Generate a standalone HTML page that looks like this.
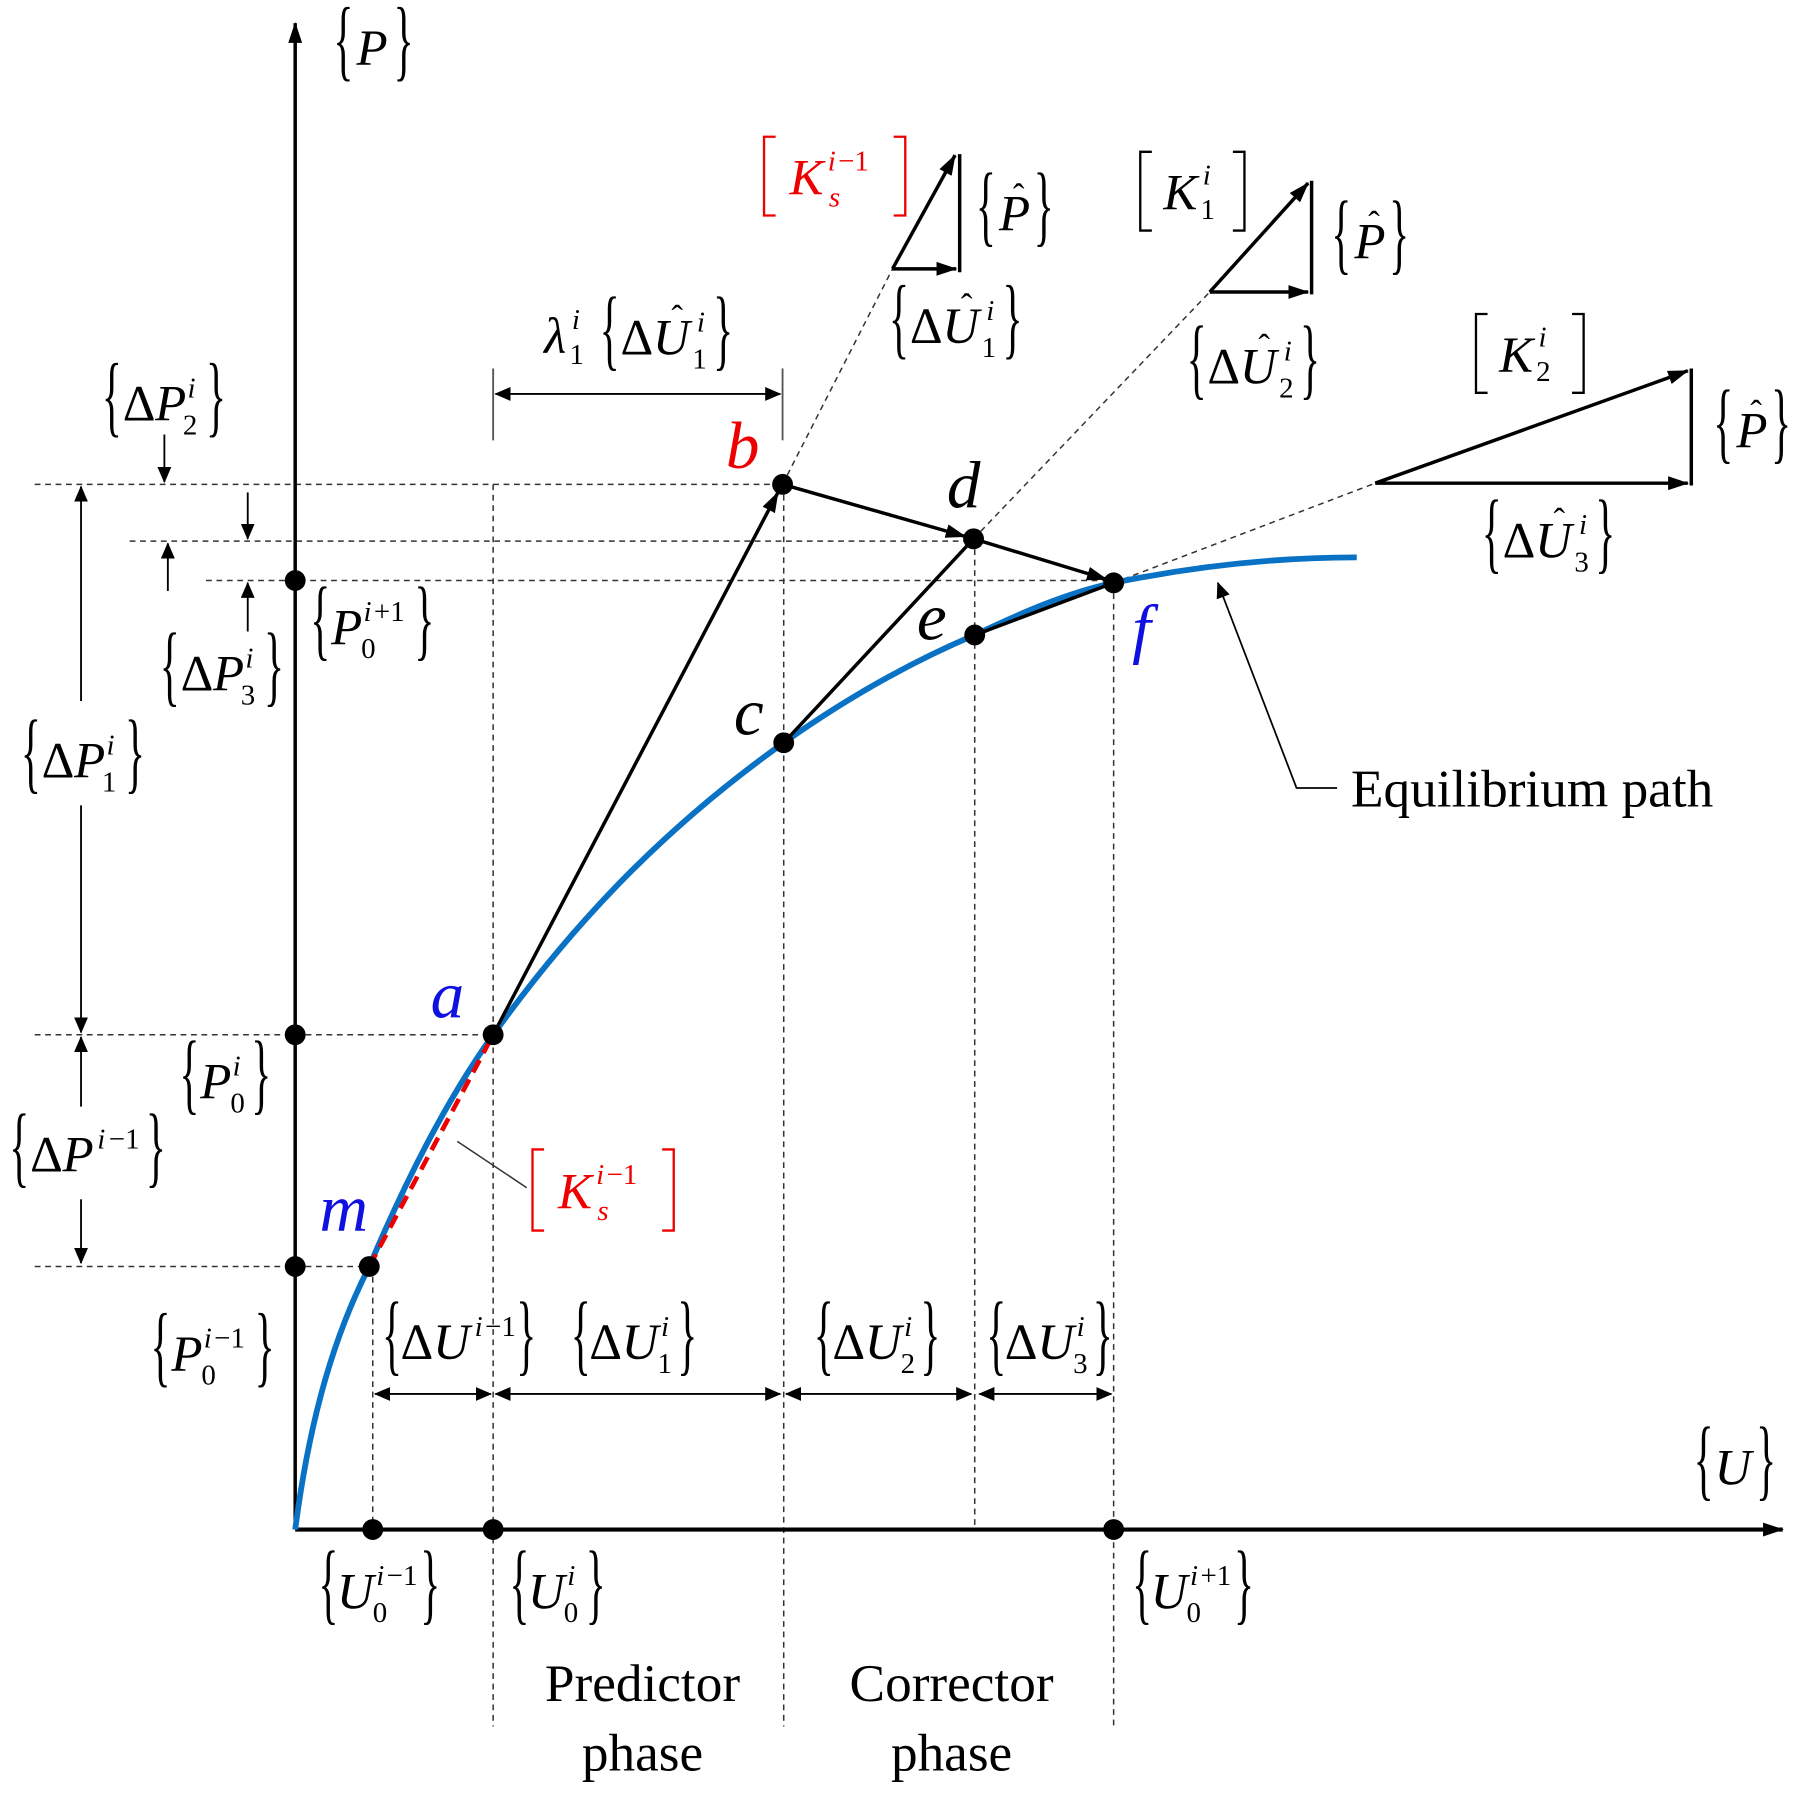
<!DOCTYPE html>
<html><head><meta charset="utf-8"><style>
html,body{margin:0;padding:0;background:#fff}
svg{display:block}
text{font-family:"Liberation Serif",serif;fill:#000}
.m{font-size:44px;font-style:italic}
.u{font-size:44px}
.s{font-size:25px}
.si{font-size:25px;font-style:italic}
.br{font-size:60px;font-weight:normal}
.pt{font-size:58px;font-style:italic}
.tx{font-size:46px}
.d{stroke:#333;stroke-width:1.3;stroke-dasharray:5,4;fill:none}
</style></head><body>
<svg width="1814" height="1803" viewBox="0 0 1567 1556" preserveAspectRatio="none" xmlns="http://www.w3.org/2000/svg">
<defs>
<marker id="ah" markerWidth="18" markerHeight="12" refX="17" refY="6" orient="auto" markerUnits="userSpaceOnUse"><path d="M0,0 L18,6 L0,12 z" fill="#000"/></marker>
<marker id="as" markerWidth="14" markerHeight="12" refX="13" refY="6" orient="auto" markerUnits="userSpaceOnUse"><path d="M0,0 L14,6 L0,12 z" fill="#000"/></marker>
<marker id="asr" markerWidth="14" markerHeight="12" refX="1" refY="6" orient="auto" markerUnits="userSpaceOnUse"><path d="M14,0 L0,6 L14,12 z" fill="#000"/></marker>
</defs>

<path class="d" d="M30,418H676 M112,467H841 M178,501H962 M30,893H426 M30,1093H319"/>
<path class="d" d="M426,418V1490 M677,418V1490 M842,465V1320 M962,503V1490 M322,1093V1320"/>
<path class="d" d="M676,418L771,232 M841,465L1045,252 M962,503L1188,417"/>

<line x1="255" y1="1320" x2="255" y2="20" stroke="#000" stroke-width="3" marker-end="url(#ah)"/>
<line x1="255" y1="1320" x2="1540" y2="1320" stroke="#000" stroke-width="3.5" marker-end="url(#ah)"/>

<path d="M255,1320 C268,1220 290,1150 319,1093 C350,1020 385,950 426,893 C500,790 580,710 677,641 C735,600 790,570 842,548 C880,530 920,512 962,503 C1040,487 1110,481 1172,481" fill="none" stroke="#0a72c4" stroke-width="5"/>
<line x1="319" y1="1093" x2="426" y2="893" stroke="#e00" stroke-width="4" stroke-dasharray="12,7"/>
<line x1="395" y1="985" x2="455" y2="1025" stroke="#333" stroke-width="1.3"/>

<line x1="426" y1="893" x2="672" y2="425" stroke="#000" stroke-width="3" marker-end="url(#ah)"/>
<line x1="676" y1="418" x2="834" y2="463" stroke="#000" stroke-width="3" marker-end="url(#ah)"/>
<line x1="841" y1="465" x2="956" y2="500" stroke="#000" stroke-width="3" marker-end="url(#ah)"/>
<line x1="677" y1="641" x2="841" y2="465" stroke="#000" stroke-width="3"/>
<line x1="842" y1="548" x2="962" y2="503" stroke="#000" stroke-width="3"/>

<g stroke="#000" stroke-width="3" fill="none">
<line x1="771" y1="232" x2="825" y2="134" marker-end="url(#ah)"/>
<line x1="771" y1="232" x2="826" y2="232" marker-end="url(#ah)"/>
<line x1="829" y1="133" x2="829" y2="235"/>
<line x1="1045" y1="252" x2="1130" y2="158" marker-end="url(#ah)"/>
<line x1="1045" y1="252" x2="1130" y2="252" marker-end="url(#ah)"/>
<line x1="1133" y1="156" x2="1133" y2="254"/>
<line x1="1188" y1="417" x2="1458" y2="320" marker-end="url(#ah)"/>
<line x1="1188" y1="417" x2="1458" y2="417" marker-end="url(#ah)"/>
<line x1="1461" y1="318" x2="1461" y2="419"/>
</g>

<path d="M1155,680H1120L1052,503" fill="none" stroke="#000" stroke-width="1.5" marker-end="url(#as)"/>
<text class="tx" x="1167" y="696">Equilibrium path</text>

<g stroke="#000" stroke-width="1.6" fill="none">
<line x1="426" y1="318" x2="426" y2="380" stroke="#555"/>
<line x1="676" y1="318" x2="676" y2="380" stroke="#555"/>
<line x1="428" y1="340" x2="674" y2="340" marker-start="url(#asr)" marker-end="url(#as)"/>
<line x1="324" y1="1203" x2="424" y2="1203" marker-start="url(#asr)" marker-end="url(#as)"/>
<line x1="428" y1="1203" x2="674" y2="1203" marker-start="url(#asr)" marker-end="url(#as)"/>
<line x1="679" y1="1203" x2="839" y2="1203" marker-start="url(#asr)" marker-end="url(#as)"/>
<line x1="846" y1="1203" x2="960" y2="1203" marker-start="url(#asr)" marker-end="url(#as)"/>
<line x1="70" y1="605" x2="70" y2="420" marker-end="url(#as)"/>
<line x1="70" y1="695" x2="70" y2="891" marker-end="url(#as)"/>
<line x1="70" y1="955" x2="70" y2="895" marker-end="url(#as)"/>
<line x1="70" y1="1035" x2="70" y2="1090" marker-end="url(#as)"/>
<line x1="142" y1="375" x2="142" y2="416" marker-end="url(#as)"/>
<line x1="214" y1="425" x2="214" y2="465" marker-end="url(#as)"/>
<line x1="145" y1="510" x2="145" y2="469" marker-end="url(#as)"/>
<line x1="214" y1="545" x2="214" y2="503" marker-end="url(#as)"/>
</g>

<g fill="#000">
<circle cx="255" cy="501" r="9"/><circle cx="255" cy="893" r="9"/><circle cx="255" cy="1093" r="9"/>
<circle cx="322" cy="1320" r="9"/><circle cx="426" cy="1320" r="9"/><circle cx="962" cy="1320" r="9"/>
<circle cx="426" cy="893" r="9"/><circle cx="676" cy="418" r="9"/><circle cx="677" cy="641" r="9"/>
<circle cx="841" cy="465" r="9"/><circle cx="842" cy="548" r="9"/><circle cx="962" cy="503" r="9"/>
<circle cx="319" cy="1093" r="9"/>
</g>

<text class="pt" x="627" y="404" style="fill:#e00">b</text>
<text class="pt" x="818" y="438">d</text>
<text class="pt" x="634" y="634">c</text>
<text class="pt" x="792" y="552">e</text>
<text class="pt" x="978" y="562" style="fill:#1010e0">f</text>
<text class="pt" x="372" y="878" style="fill:#1010e0">a</text>
<text class="pt" x="276" y="1062" style="fill:#1010e0">m</text>

<g transform="translate(288,40)">
<text class="br" transform="translate(0,20) scale(0.6,1.3)">{</text>
<text class="m" x="20" y="16">P</text>
<text class="br" transform="translate(52,20) scale(0.6,1.3)">}</text>
</g>
<g transform="translate(1463,1265)">
<text class="br" transform="translate(0,20) scale(0.6,1.3)">{</text>
<text class="m" x="18" y="16">U</text>
<text class="br" transform="translate(54,20) scale(0.6,1.3)">}</text>
</g>

<g transform="translate(660,152)">
<path d="M10,-34H0V34H10 M112,-34H122V34H112" stroke="#e00" stroke-width="2" fill="none"/>
<text class="m" x="22" y="16" style="fill:#e00">K</text>
<text class="si" x="55" y="-5" style="fill:#e00">i</text><text class="s" x="64" y="-5" style="fill:#e00">−1</text>
<text class="si" x="56" y="26" style="fill:#e00">s</text>
</g>
<g transform="translate(460,1027)">
<path d="M10,-35H0V35H10 M112,-35H122V35H112" stroke="#e00" stroke-width="2" fill="none"/>
<text class="m" x="22" y="16" style="fill:#e00">K</text>
<text class="si" x="55" y="-5" style="fill:#e00">i</text><text class="s" x="64" y="-5" style="fill:#e00">−1</text>
<text class="si" x="56" y="26" style="fill:#e00">s</text>
</g>
<g transform="translate(985,165)">
<path d="M10,-34H0V34H10 M80,-34H90V34H80" stroke="#000" stroke-width="2" fill="none"/>
<text class="m" x="20" y="16">K</text>
<text class="si" x="54" y="-6">i</text><text class="s" x="52" y="24">1</text>
</g>
<g transform="translate(1275,305)">
<path d="M10,-34H0V34H10 M83,-34H93V34H83" stroke="#000" stroke-width="2" fill="none"/>
<text class="m" x="20" y="16">K</text>
<text class="si" x="54" y="-6">i</text><text class="s" x="52" y="24">2</text>
</g>

<g transform="translate(843,183)">
<text class="br" transform="translate(0,20) scale(0.6,1.3)">{</text>
<text class="m" x="20" y="16">P</text><text class="u" x="32" y="-4" style="font-size:30px">ˆ</text>
<text class="br" transform="translate(50,20) scale(0.6,1.3)">}</text>
</g>
<g transform="translate(1150,207)">
<text class="br" transform="translate(0,20) scale(0.6,1.3)">{</text>
<text class="m" x="20" y="16">P</text><text class="u" x="32" y="-4" style="font-size:30px">ˆ</text>
<text class="br" transform="translate(50,20) scale(0.6,1.3)">}</text>
</g>
<g transform="translate(1480,370)">
<text class="br" transform="translate(0,20) scale(0.6,1.3)">{</text>
<text class="m" x="20" y="16">P</text><text class="u" x="32" y="-4" style="font-size:30px">ˆ</text>
<text class="br" transform="translate(50,20) scale(0.6,1.3)">}</text>
</g>

<g transform="translate(768,280)">
<text class="br" transform="translate(0,20) scale(0.6,1.3)">{</text>
<text class="u" x="18" y="16">Δ</text><text class="m" x="46" y="16">U</text><text class="u" x="62" y="-6" style="font-size:30px">ˆ</text>
<text class="si" x="84" y="-4">i</text><text class="s" x="80" y="28">1</text>
<text class="br" transform="translate(98,20) scale(0.6,1.3)">}</text>
</g>
<g transform="translate(1025,315)">
<text class="br" transform="translate(0,20) scale(0.6,1.3)">{</text>
<text class="u" x="18" y="16">Δ</text><text class="m" x="46" y="16">U</text><text class="u" x="62" y="-6" style="font-size:30px">ˆ</text>
<text class="si" x="84" y="-4">i</text><text class="s" x="80" y="28">2</text>
<text class="br" transform="translate(98,20) scale(0.6,1.3)">}</text>
</g>
<g transform="translate(1280,465)">
<text class="br" transform="translate(0,20) scale(0.6,1.3)">{</text>
<text class="u" x="18" y="16">Δ</text><text class="m" x="46" y="16">U</text><text class="u" x="62" y="-6" style="font-size:30px">ˆ</text>
<text class="si" x="84" y="-4">i</text><text class="s" x="80" y="28">3</text>
<text class="br" transform="translate(98,20) scale(0.6,1.3)">}</text>
</g>
<g transform="translate(470,290)">
<text class="m" x="0" y="14">λ</text><text class="si" x="24" y="-6">i</text><text class="s" x="22" y="24">1</text>
<text class="br" transform="translate(48,20) scale(0.6,1.3)">{</text>
<text class="u" x="66" y="16">Δ</text><text class="m" x="94" y="16">U</text><text class="u" x="110" y="-6" style="font-size:30px">ˆ</text>
<text class="si" x="132" y="-4">i</text><text class="s" x="128" y="28">1</text>
<text class="br" transform="translate(146,20) scale(0.6,1.3)">}</text>
</g>

<g transform="translate(88,347)">
<text class="br" transform="translate(0,20) scale(0.6,1.3)">{</text>
<text class="u" x="18" y="16">Δ</text><text class="m" x="46" y="16">P</text>
<text class="si" x="74" y="-4">i</text><text class="s" x="70" y="28">2</text>
<text class="br" transform="translate(90,20) scale(0.6,1.3)">}</text>
</g>
<g transform="translate(138,580)">
<text class="br" transform="translate(0,20) scale(0.6,1.3)">{</text>
<text class="u" x="18" y="16">Δ</text><text class="m" x="46" y="16">P</text>
<text class="si" x="74" y="-4">i</text><text class="s" x="70" y="28">3</text>
<text class="br" transform="translate(90,20) scale(0.6,1.3)">}</text>
</g>
<g transform="translate(18,655)">
<text class="br" transform="translate(0,20) scale(0.6,1.3)">{</text>
<text class="u" x="18" y="16">Δ</text><text class="m" x="46" y="16">P</text>
<text class="si" x="74" y="-4">i</text><text class="s" x="70" y="28">1</text>
<text class="br" transform="translate(90,20) scale(0.6,1.3)">}</text>
</g>
<g transform="translate(8,995)">
<text class="br" transform="translate(0,20) scale(0.6,1.3)">{</text>
<text class="u" x="18" y="16">Δ</text><text class="m" x="46" y="16">P</text>
<text class="si" x="76" y="-4">i</text><text class="s" x="86" y="-4">−1</text>
<text class="br" transform="translate(118,20) scale(0.6,1.3)">}</text>
</g>
<g transform="translate(268,540)">
<text class="br" transform="translate(0,20) scale(0.6,1.3)">{</text>
<text class="m" x="18" y="16">P</text>
<text class="si" x="46" y="-4">i</text><text class="s" x="55" y="-4">+1</text><text class="s" x="44" y="28">0</text>
<text class="br" transform="translate(90,20) scale(0.6,1.3)">}</text>
</g>
<g transform="translate(155,932)">
<text class="br" transform="translate(0,20) scale(0.6,1.3)">{</text>
<text class="m" x="18" y="16">P</text>
<text class="si" x="46" y="-4">i</text><text class="s" x="44" y="28">0</text>
<text class="br" transform="translate(62,20) scale(0.6,1.3)">}</text>
</g>
<g transform="translate(130,1167)">
<text class="br" transform="translate(0,20) scale(0.6,1.3)">{</text>
<text class="m" x="18" y="16">P</text>
<text class="si" x="46" y="-4">i</text><text class="s" x="55" y="-4">−1</text><text class="s" x="44" y="28">0</text>
<text class="br" transform="translate(90,20) scale(0.6,1.3)">}</text>
</g>
<g transform="translate(330,1157)">
<text class="br" transform="translate(0,20) scale(0.6,1.3)">{</text>
<text class="u" x="16" y="16">Δ</text><text class="m" x="44" y="16">U</text>
<text class="si" x="80" y="-4">i</text><text class="s" x="89" y="-4">−1</text>
<text class="br" transform="translate(116,20) scale(0.6,1.3)">}</text>
</g>
<g transform="translate(493,1157)">
<text class="br" transform="translate(0,20) scale(0.6,1.3)">{</text>
<text class="u" x="16" y="16">Δ</text><text class="m" x="44" y="16">U</text>
<text class="si" x="78" y="-4">i</text><text class="s" x="75" y="28">1</text>
<text class="br" transform="translate(92,20) scale(0.6,1.3)">}</text>
</g>
<g transform="translate(703,1157)">
<text class="br" transform="translate(0,20) scale(0.6,1.3)">{</text>
<text class="u" x="16" y="16">Δ</text><text class="m" x="44" y="16">U</text>
<text class="si" x="78" y="-4">i</text><text class="s" x="75" y="28">2</text>
<text class="br" transform="translate(92,20) scale(0.6,1.3)">}</text>
</g>
<g transform="translate(852,1157)">
<text class="br" transform="translate(0,20) scale(0.6,1.3)">{</text>
<text class="u" x="16" y="16">Δ</text><text class="m" x="44" y="16">U</text>
<text class="si" x="78" y="-4">i</text><text class="s" x="75" y="28">3</text>
<text class="br" transform="translate(92,20) scale(0.6,1.3)">}</text>
</g>
<g transform="translate(275,1372)">
<text class="br" transform="translate(0,20) scale(0.6,1.3)">{</text>
<text class="m" x="16" y="16">U</text>
<text class="si" x="50" y="-4">i</text><text class="s" x="59" y="-4">−1</text><text class="s" x="47" y="28">0</text>
<text class="br" transform="translate(88,20) scale(0.6,1.3)">}</text>
</g>
<g transform="translate(440,1372)">
<text class="br" transform="translate(0,20) scale(0.6,1.3)">{</text>
<text class="m" x="16" y="16">U</text>
<text class="si" x="50" y="-4">i</text><text class="s" x="47" y="28">0</text>
<text class="br" transform="translate(66,20) scale(0.6,1.3)">}</text>
</g>
<g transform="translate(978,1372)">
<text class="br" transform="translate(0,20) scale(0.6,1.3)">{</text>
<text class="m" x="16" y="16">U</text>
<text class="si" x="50" y="-4">i</text><text class="s" x="59" y="-4">+1</text><text class="s" x="47" y="28">0</text>
<text class="br" transform="translate(88,20) scale(0.6,1.3)">}</text>
</g>

<text class="tx" x="555" y="1468" text-anchor="middle">Predictor</text>
<text class="tx" x="555" y="1528" text-anchor="middle">phase</text>
<text class="tx" x="822" y="1468" text-anchor="middle">Corrector</text>
<text class="tx" x="822" y="1528" text-anchor="middle">phase</text>
</svg>
</body></html>
